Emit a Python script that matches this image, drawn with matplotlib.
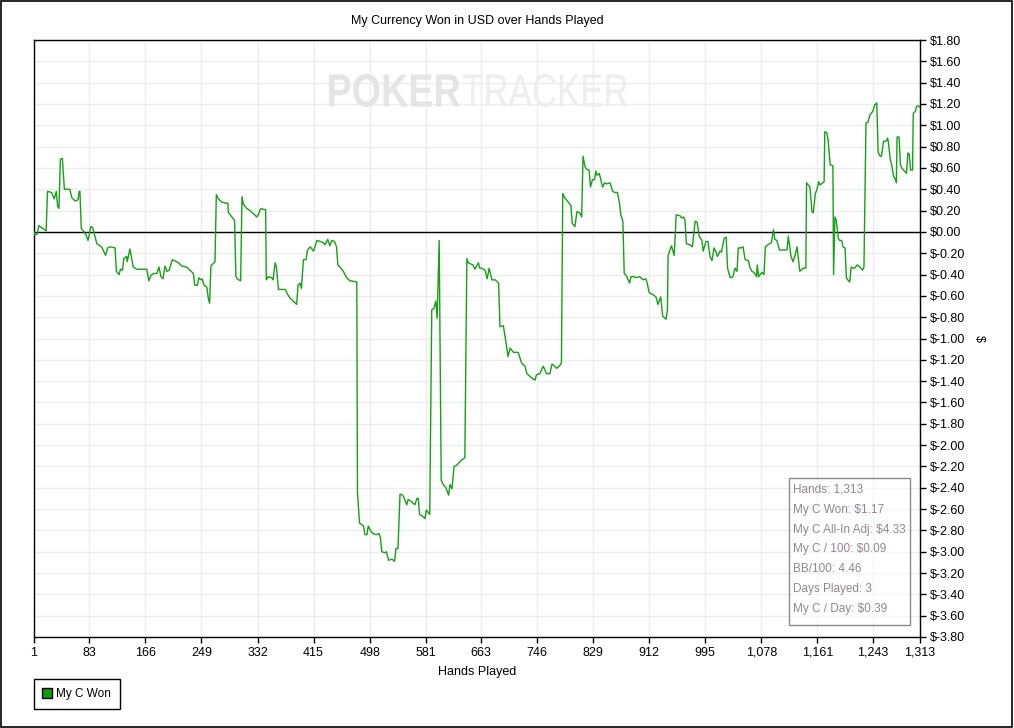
import matplotlib
matplotlib.use("Agg")
import matplotlib.pyplot as plt
from matplotlib.lines import Line2D
from matplotlib.patches import Rectangle, PathPatch
from matplotlib.textpath import TextPath
from matplotlib.font_manager import FontProperties
from matplotlib.transforms import Affine2D
from matplotlib.ticker import FuncFormatter

# hands played vs cumulative currency won (USD)
hands = [1, 2, 6, 8, 12, 19, 21, 27, 31, 34, 36, 38, 40, 43, 46, 54, 57, 62, 66, 68,
         69, 71, 74, 78, 81, 83, 85, 88, 94, 101, 107, 110, 114, 121, 123, 127, 129, 132, 134, 138,
         139, 143, 146, 148, 153, 168, 171, 174, 178, 183, 186, 189, 192, 195, 198, 201, 206, 215, 220, 227,
         232, 237, 239, 243, 245, 248, 250, 253, 257, 259, 261, 263, 266, 269, 271, 274, 279, 285, 288, 289,
         294, 298, 300, 302, 307, 309, 311, 316, 321, 326, 331, 333, 336, 338, 341, 344, 345, 348, 353, 355,
         358, 360, 363, 373, 376, 380, 390, 392, 395, 397, 400, 404, 406, 410, 415, 420, 425, 429, 432, 436,
         439, 442, 446, 449, 451, 454, 459, 464, 469, 471, 479, 480, 483, 489, 491, 494, 496, 500, 503, 508,
         512, 514, 516, 521, 523, 526, 531, 535, 537, 540, 543, 547, 550, 553, 555, 560, 565, 568, 570, 572,
         577, 580, 582, 587, 590, 593, 596, 598, 601, 604, 607, 611, 615, 617, 620, 623, 627, 631, 634, 639,
         642, 644, 651, 654, 659, 661, 664, 669, 672, 675, 679, 684, 689, 691, 696, 700, 703, 706, 711, 718,
         723, 728, 731, 738, 743, 745, 750, 755, 760, 765, 768, 772, 775, 780, 782, 784, 787, 792, 796, 798,
         802, 805, 809, 812, 814, 817, 819, 823, 825, 828, 831, 833, 835, 838, 840, 843, 846, 849, 854, 858,
         861, 865, 868, 870, 873, 875, 878, 883, 885, 890, 893, 898, 903, 907, 909, 912, 918, 922, 925, 929,
         932, 937, 939, 940, 945, 949, 952, 958, 960, 963, 965, 967, 972, 976, 980, 983, 986, 990, 992, 996,
         999, 1002, 1005, 1008, 1011, 1013, 1017, 1019, 1023, 1026, 1028, 1032, 1036, 1039, 1042, 1044, 1048, 1051, 1054, 1059,
         1061, 1064, 1067, 1071, 1072, 1074, 1079, 1082, 1084, 1088, 1093, 1096, 1098, 1101, 1105, 1111, 1116, 1118, 1122, 1125,
         1128, 1131, 1135, 1140, 1144, 1145, 1150, 1153, 1155, 1158, 1160, 1163, 1165, 1171, 1172, 1175, 1177, 1180, 1184, 1185,
         1187, 1189, 1192, 1194, 1197, 1199, 1202, 1204, 1206, 1209, 1211, 1214, 1216, 1220, 1224, 1228, 1230, 1233, 1236, 1239,
         1243, 1246, 1249, 1251, 1254, 1256, 1259, 1263, 1265, 1266, 1269, 1271, 1274, 1276, 1278, 1279, 1282, 1284, 1286, 1290,
         1293, 1295, 1297, 1299, 1302, 1303, 1306, 1308, 1312, 1313]
won = [0.00, -0.03, -0.02, 0.06, 0.04, 0.01, 0.38, 0.37, 0.31, 0.38, 0.24, 0.22, 0.68, 0.69, 0.40, 0.40, 0.32, 0.29, 0.30, 0.38,
       0.38, 0.03, 0.01, -0.03, -0.08, -0.02, 0.05, 0.04, -0.11, -0.14, -0.22, -0.15, -0.14, -0.15, -0.37, -0.40, -0.35, -0.36, -0.25, -0.23,
       -0.28, -0.16, -0.26, -0.33, -0.35, -0.35, -0.46, -0.41, -0.39, -0.39, -0.33, -0.42, -0.44, -0.32, -0.37, -0.36, -0.26, -0.29, -0.32, -0.33,
       -0.36, -0.39, -0.50, -0.50, -0.43, -0.45, -0.44, -0.50, -0.52, -0.62, -0.67, -0.32, -0.30, -0.28, 0.35, 0.31, 0.28, 0.27, 0.27, 0.18,
       0.14, 0.11, -0.42, -0.44, -0.46, 0.33, 0.26, 0.22, 0.20, 0.17, 0.14, 0.16, 0.21, 0.22, 0.21, 0.21, -0.45, -0.42, -0.43, -0.45,
       -0.29, -0.33, -0.54, -0.54, -0.58, -0.62, -0.68, -0.50, -0.48, -0.53, -0.26, -0.26, -0.17, -0.14, -0.18, -0.08, -0.09, -0.10, -0.12, -0.07,
       -0.13, -0.08, -0.09, -0.14, -0.31, -0.33, -0.37, -0.43, -0.46, -0.46, -0.47, -2.44, -2.73, -2.76, -2.84, -2.84, -2.76, -2.81, -2.83, -2.84,
       -2.83, -2.87, -3.00, -3.01, -3.00, -3.08, -3.07, -3.09, -2.97, -2.97, -2.46, -2.47, -2.51, -2.56, -2.51, -2.53, -2.56, -2.50, -2.50, -2.65,
       -2.67, -2.69, -2.61, -2.65, -0.73, -0.72, -0.65, -0.81, -0.08, -2.33, -2.37, -2.40, -2.47, -2.37, -2.41, -2.20, -2.19, -2.16, -2.14, -2.12,
       -0.25, -0.29, -0.31, -0.35, -0.29, -0.34, -0.34, -0.36, -0.44, -0.34, -0.45, -0.45, -0.48, -0.89, -0.88, -1.04, -1.17, -1.09, -1.13, -1.13,
       -1.23, -1.26, -1.33, -1.37, -1.39, -1.34, -1.33, -1.26, -1.33, -1.33, -1.24, -1.26, -1.28, -1.25, -1.23, 0.36, 0.32, 0.28, 0.25, 0.08,
       0.05, 0.19, 0.18, 0.14, 0.71, 0.61, 0.59, 0.58, 0.42, 0.49, 0.49, 0.57, 0.53, 0.55, 0.50, 0.42, 0.46, 0.45, 0.46, 0.38,
       0.37, 0.37, 0.27, 0.16, 0.10, -0.39, -0.41, -0.48, -0.42, -0.42, -0.43, -0.42, -0.45, -0.44, -0.48, -0.57, -0.59, -0.61, -0.68, -0.61,
       -0.79, -0.82, -0.73, -0.22, -0.13, -0.22, 0.16, 0.15, 0.13, 0.14, 0.11, -0.11, -0.12, -0.14, 0.10, 0.09, -0.04, -0.08, -0.18, -0.09,
       -0.09, -0.23, -0.27, -0.15, -0.19, -0.23, -0.18, -0.19, -0.06, -0.05, -0.34, -0.43, -0.42, -0.34, -0.37, -0.15, -0.15, -0.14, -0.26, -0.27,
       -0.33, -0.37, -0.38, -0.42, -0.31, -0.42, -0.38, -0.40, -0.14, -0.12, -0.10, 0.02, -0.07, -0.08, -0.17, -0.17, -0.17, -0.04, -0.23, -0.28,
       -0.22, -0.14, -0.37, -0.34, -0.34, 0.46, 0.42, 0.19, 0.18, 0.36, 0.39, 0.47, 0.44, 0.47, 0.94, 0.93, 0.86, 0.63, 0.62, -0.40,
       0.14, 0.11, -0.06, -0.08, -0.08, -0.14, -0.15, -0.43, -0.45, -0.47, -0.33, -0.34, -0.34, -0.31, -0.33, -0.36, -0.33, 1.02, 1.03, 1.10,
       1.13, 1.19, 1.21, 0.75, 0.71, 0.71, 0.85, 0.85, 0.88, 0.85, 0.68, 0.63, 0.52, 0.50, 0.46, 0.89, 0.89, 0.63, 0.60, 0.57,
       0.55, 0.74, 0.73, 0.58, 0.58, 1.11, 1.13, 1.18, 1.18, 1.17]

x_ticks = [1, 83, 166, 249, 332, 415, 498, 581, 663, 746, 829, 912, 995, 1078, 1161, 1243, 1313]
y_ticks = [round(-3.8 + 0.2 * i, 2) for i in range(29)]

stats = ["Hands: 1,313", "My C Won: $1.17", "My C All-In Adj: $4.33", "My C / 100: $0.09",
         "BB/100: 4.46", "Days Played: 3", "My C / Day: $0.39"]

W, H = 1014, 728
plt.rcParams['font.family'] = ['Liberation Sans', 'DejaVu Sans']
fig = plt.figure(figsize=(W / 100, H / 100), dpi=100)
px = Affine2D().scale(1 / W, 1 / H) + fig.transFigure  # pixel coords, origin bottom-left


def watermark(word, weight, color, x0, x1, top, bottom):
    # squeeze the word into a pixel box so it looks like the condensed logo font
    tp = TextPath((0, 0), word, size=50, prop=FontProperties(family='Liberation Sans', weight=weight))
    ext = tp.get_extents()
    sx = (x1 - x0) / ext.width
    sy = (bottom - top) / ext.height
    tr = Affine2D().translate(-ext.x0, -ext.y0).scale(sx, sy).translate(x0, H - bottom) + px
    fig.patches.append(PathPatch(tp, transform=tr, facecolor=color, edgecolor='none', zorder=0))


# outer frame
fig.patches.append(Rectangle((0.0005, 0.0007), 0.998, 0.998, transform=fig.transFigure,
                             fill=False, edgecolor='black', lw=1.2))
watermark("POKER", 'bold', '#e5e5e5', 329, 460, 74, 107)
watermark("TRACKER", 'normal', '#eeeeee', 463, 627, 74, 107)

ax = fig.add_axes([34 / W, 1 - 637 / H, (920 - 34) / W, (637 - 40) / H])
ax.patch.set_alpha(0)

ax.plot(hands, won, color='#16a016', lw=1.0, zorder=3)
ax.axhline(0, color='black', lw=1.0, zorder=2)

ax.set_xlim(1, 1313)
ax.set_ylim(-3.8, 1.8)
ax.set_xticks(x_ticks)
ax.set_xticklabels([f"{t:,}" for t in x_ticks])
ax.set_yticks(y_ticks)
ax.yaxis.set_major_formatter(FuncFormatter(lambda v, p: "$0.00" if abs(v) < 1e-9 else f"${v:.2f}"))
ax.yaxis.tick_right()
ax.yaxis.set_label_position('right')
ax.tick_params(axis='both', direction='out', length=4, width=1, labelsize=9, color='black')
ax.tick_params(axis='y', pad=3)
ax.tick_params(axis='x', pad=3)
ax.grid(True, color='#ececec', lw=1, zorder=0)
for s in ax.spines.values():
    s.set_color('black')
    s.set_linewidth(1)

ax.set_xlabel("Hands Played", fontsize=9, labelpad=5)
ax.set_ylabel("$", fontsize=9, rotation=-90, labelpad=14)
fig.text(0.5 * (34 + 920) / W, 1 - 21 / H, "My Currency Won in USD over Hands Played",
         fontsize=9, ha='center', va='center')

# stats box
ax.add_patch(Rectangle((789 / W, 1 - 625 / H), (910 - 789) / W, (625 - 478) / H,
                       transform=fig.transFigure, fill=True, facecolor=(1, 1, 1, 0.5),
                       edgecolor='#8a8a8a', lw=1, zorder=5))
for i, s in enumerate(stats):
    fig.text(793 / W, 1 - (490 + i * 19.8) / H, s, fontsize=8.5, color='#928592',
             ha='left', va='center', zorder=6)

# legend
handle = Line2D([], [], marker='s', ls='none', markerfacecolor='#0f9a0f',
                markeredgecolor='black', markersize=7)
leg = fig.legend([handle], ["My C Won"], loc='lower left',
                 bbox_to_anchor=(34 / W, 1 - 709 / H), fontsize=8.5, fancybox=False,
                 edgecolor='black', framealpha=1, borderpad=0.75, handlelength=0.7,
                 handletextpad=0.45, borderaxespad=0)
leg.get_frame().set_linewidth(1)

fig.savefig("out.png", dpi=100)
